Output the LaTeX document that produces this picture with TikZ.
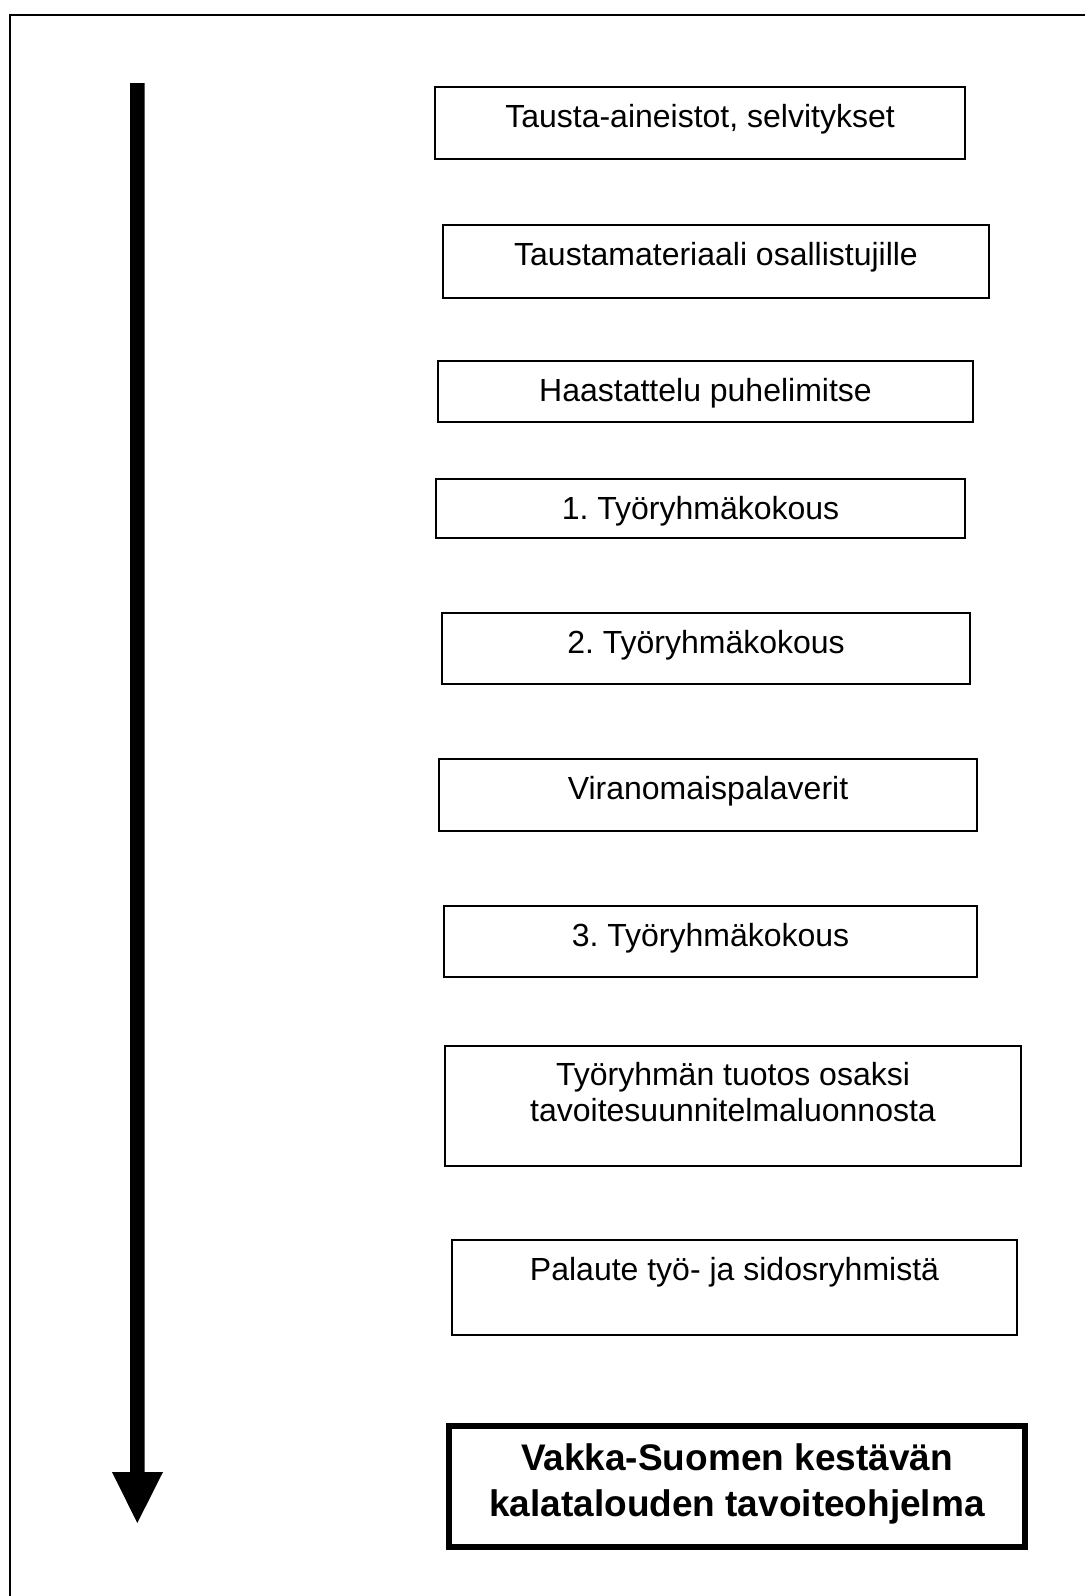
\documentclass[tikz,border=0pt]{standalone}
\usepackage{fontspec}
\setmainfont{Liberation Sans}
\frenchspacing
\begin{document}
\begin{tikzpicture}[x=1pt,y=-1pt,
  box/.style={draw=black, line width=1.6pt, rectangle, inner sep=0pt, outer sep=0pt},
  bigbox/.style={draw=black, line width=6pt, rectangle, inner sep=0pt, outer sep=0pt},
  lbl/.style={inner sep=0pt, outer sep=0pt, anchor=base, align=center, font=\fontsize{32pt}{36.7pt}\selectfont},
  biglbl/.style={inner sep=0pt, outer sep=0pt, anchor=base, align=center, font=\fontsize{37pt}{46pt}\selectfont\bfseries}]
\useasboundingbox (0,0) rectangle (1085,1596);
% outer frame (only top and left edges visible)
\coordinate (fa) at (1085,15);
\coordinate (fb) at (10,15);
\coordinate (fc) at (10,1596);
\draw[line width=2pt] (fa) -- (fb) -- (fc);
% time arrow
\coordinate (atop) at (137.3,83);
\coordinate (abot) at (137.3,1523);
\fill[black] (130,83) -- (144.5,83) -- (144.5,1472) -- (163,1472) -- (abot) -- (112,1472) -- (130,1472) -- cycle;
% boxes
\node[box, minimum width=530pt, minimum height=72pt] (b1) at (700,123) {};
\node[box, minimum width=546pt, minimum height=73pt] (b2) at (716,261.5) {};
\node[box, minimum width=535pt, minimum height=61pt] (b3) at (705.5,391.5) {};
\node[box, minimum width=529pt, minimum height=59pt] (b4) at (700.5,508.5) {};
\node[box, minimum width=528pt, minimum height=71pt] (b5) at (706,648.5) {};
\node[box, minimum width=538pt, minimum height=72pt] (b6) at (708,795) {};
\node[box, minimum width=533pt, minimum height=71pt] (b7) at (710.5,941.5) {};
\node[box, minimum width=576pt, minimum height=120pt] (b8) at (733,1106) {};
\node[box, minimum width=565pt, minimum height=95pt] (b9) at (734.5,1287.5) {};
\node[bigbox, minimum width=576pt, minimum height=121pt] (b10) at (737,1486) {};
% texts
\node[lbl] (t1) at ([yshift=-40pt]b1.north) {Tausta-aineistot, selvitykset};
\node[lbl] (t2) at ([yshift=-40pt]b2.north) {Taustamateriaali osallistujille};
\node[lbl] (t3) at ([yshift=-40pt]b3.north) {Haastattelu puhelimitse};
\node[lbl] (t4) at ([yshift=-40pt]b4.north) {1. Työryhmäkokous};
\node[lbl] (t5) at ([yshift=-40pt]b5.north) {2. Työryhmäkokous};
\node[lbl] (t6) at ([yshift=-40pt]b6.north) {Viranomaispalaverit};
\node[lbl] (t7) at ([yshift=-40pt]b7.north) {3. Työryhmäkokous};
\node[lbl] (t8) at ([yshift=-75.7pt]b8.north) {Työryhmän tuotos osaksi\\tavoitesuunnitelmaluonnosta};
\node[lbl] (t9) at ([yshift=-40pt]b9.north) {Palaute työ- ja sidosryhmistä};
\node[biglbl] (t10) at ([yshift=-91pt]b10.north) {Vakka-Suomen kestävän\\kalatalouden tavoiteohjelma};
\end{tikzpicture}
\end{document}
